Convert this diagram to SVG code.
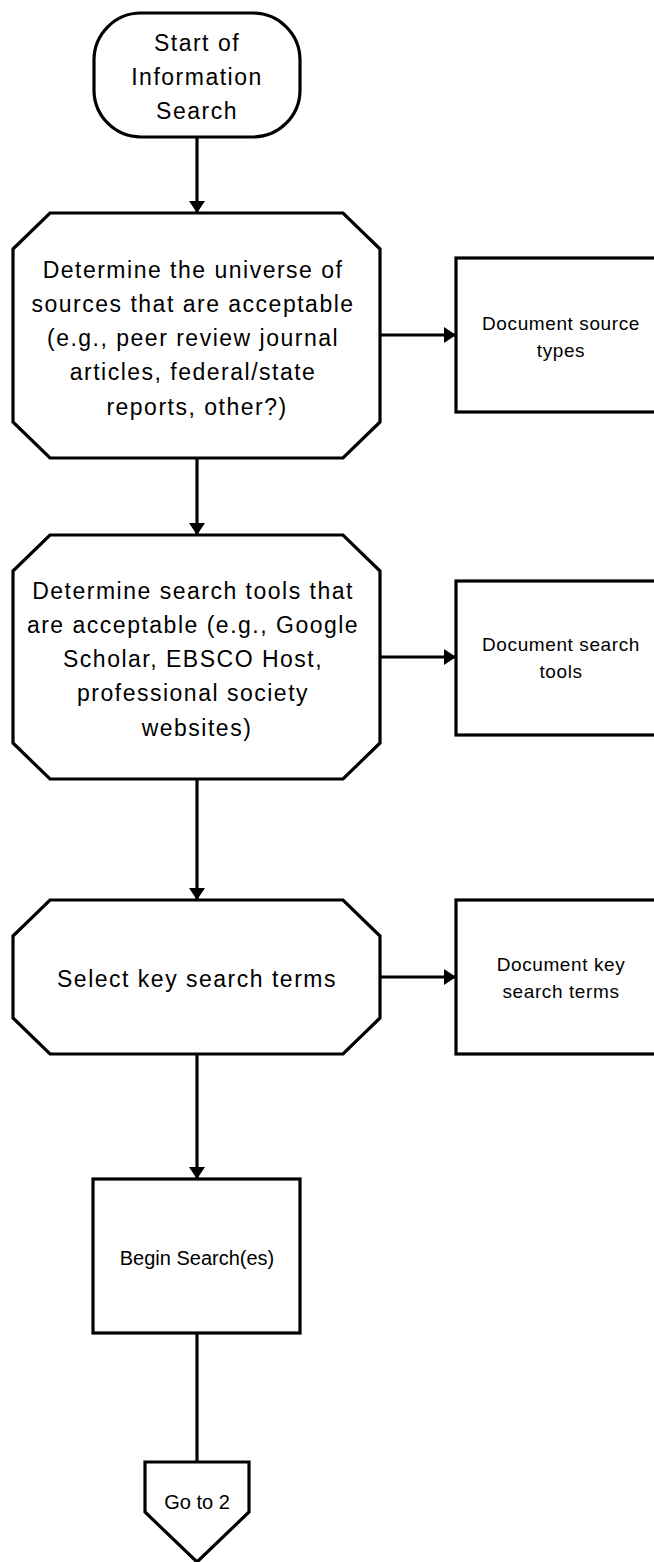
<svg xmlns="http://www.w3.org/2000/svg" width="654" height="1562" viewBox="0 0 654 1562">
  <defs>
    <marker id="arrow" markerUnits="userSpaceOnUse" markerWidth="13" markerHeight="18" refX="12" refY="8" orient="auto">
      <path d="M0,0 L12,8 L0,16 Z" fill="#000"/>
    </marker>
  </defs>
  <style>
    .shape { fill: #fff; stroke: #000; stroke-width: 3.2; stroke-linejoin: miter; }
    .edge { fill: none; stroke: #000; stroke-width: 3.2; }
    .big { font-family: "Liberation Sans", Arial, sans-serif; font-size: 23px; letter-spacing: 1.5px; fill: #000; text-anchor: middle; }
    .small { font-family: "Liberation Sans", Arial, sans-serif; font-size: 19px; letter-spacing: 0.6px; fill: #000; text-anchor: middle; }
    .label { font-family: "Liberation Sans", Arial, sans-serif; font-size: 20px; fill: #000; text-anchor: middle; }
  </style>
  <rect width="654" height="1562" fill="#fff"/>

  <!-- connectors -->
  <g id="connectors">
    <line class="edge" x1="197" y1="137" x2="197" y2="213" marker-end="url(#arrow)"/>
    <line class="edge" x1="380" y1="335" x2="456" y2="335" marker-end="url(#arrow)"/>
    <line class="edge" x1="197" y1="458" x2="197" y2="535" marker-end="url(#arrow)"/>
    <line class="edge" x1="380" y1="657" x2="456" y2="657" marker-end="url(#arrow)"/>
    <line class="edge" x1="197" y1="779" x2="197" y2="900" marker-end="url(#arrow)"/>
    <line class="edge" x1="380" y1="977" x2="456" y2="977" marker-end="url(#arrow)"/>
    <line class="edge" x1="197" y1="1054" x2="197" y2="1179" marker-end="url(#arrow)"/>
    <line class="edge" x1="197" y1="1333" x2="197" y2="1462"/>
  </g>

  <!-- start terminator -->
  <g id="start">
    <rect class="shape" x="94" y="13" width="206" height="124" rx="47" ry="47"/>
    <text class="big"><tspan x="197" y="51">Start of</tspan><tspan x="197" y="85">Information</tspan><tspan x="197" y="119">Search</tspan></text>
  </g>

  <!-- step 1: source universe -->
  <g id="sources">
    <polygon class="shape" points="50,213 343,213 380,249 380,422 343,458 50,458 13,422 13,249"/>
    <text class="big">
      <tspan x="197" y="278">Determine the universe of</tspan>
      <tspan x="197" y="312">sources that are acceptable</tspan>
      <tspan x="197" y="346">(e.g., peer review journal</tspan>
      <tspan x="197" y="380">articles, federal/state</tspan>
      <tspan x="197" y="415">reports, other?)</tspan>
    </text>
  </g>

  <g id="doc-sources">
    <rect class="shape" x="456" y="258" width="212" height="154"/>
    <text class="small"><tspan x="561" y="330">Document source</tspan><tspan x="561" y="357">types</tspan></text>
  </g>

  <!-- step 2: search tools -->
  <g id="tools">
    <polygon class="shape" points="50,535 343,535 380,571 380,743 343,779 50,779 13,743 13,571"/>
    <text class="big">
      <tspan x="197" y="599">Determine search tools that</tspan>
      <tspan x="197" y="633">are acceptable (e.g., Google</tspan>
      <tspan x="197" y="667">Scholar, EBSCO Host,</tspan>
      <tspan x="197" y="701">professional society</tspan>
      <tspan x="197" y="736">websites)</tspan>
    </text>
  </g>

  <g id="doc-tools">
    <rect class="shape" x="456" y="581" width="212" height="154"/>
    <text class="small"><tspan x="561" y="651">Document search</tspan><tspan x="561" y="678">tools</tspan></text>
  </g>

  <!-- step 3: key terms -->
  <g id="terms">
    <polygon class="shape" points="50,900 343,900 380,936 380,1018 343,1054 50,1054 13,1018 13,936"/>
    <text class="big" x="197" y="987">Select key search terms</text>
  </g>

  <g id="doc-terms">
    <rect class="shape" x="456" y="900" width="212" height="154"/>
    <text class="small"><tspan x="561" y="971">Document key</tspan><tspan x="561" y="998">search terms</tspan></text>
  </g>

  <!-- begin searching -->
  <g id="begin">
    <rect class="shape" x="93" y="1179" width="207" height="154"/>
    <text class="label" x="197" y="1265">Begin Search(es)</text>
  </g>

  <!-- off-page connector -->
  <g id="goto">
    <polygon class="shape" points="145,1462 249,1462 249,1512 197,1562 145,1512"/>
    <text class="label" x="197" y="1509">Go to 2</text>
  </g>
</svg>
